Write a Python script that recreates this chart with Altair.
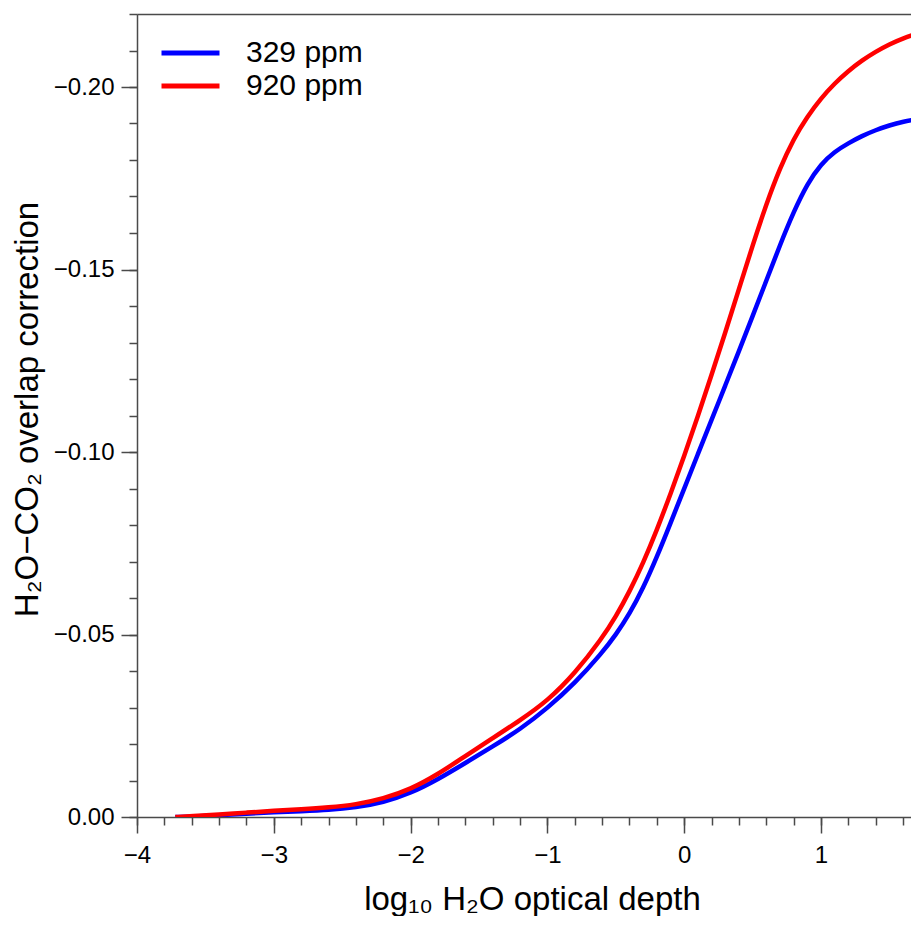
import altair as alt
import pandas as pd

# log10 H2O optical depth
x_vals = [-3.72, -3.6, -3.4, -3.2, -3.0, -2.8, -2.6, -2.4, -2.2, -2.0, -1.8, -1.6, -1.4,
          -1.2, -1.0, -0.8, -0.6, -0.5, -0.4, -0.3, -0.2, -0.1, 0.0, 0.1, 0.2, 0.3, 0.4,
          0.5, 0.6, 0.7, 0.8, 0.9, 1.0, 1.1, 1.2, 1.3, 1.4, 1.5, 1.6, 1.72]
# 329 ppm
blue_vals = [0.0, -0.0001, -0.0005, -0.0009, -0.0013, -0.0016, -0.0019, -0.0026, -0.0040,
             -0.0065, -0.0103, -0.0148, -0.0193, -0.0240, -0.0298, -0.0366, -0.0450,
             -0.0499, -0.0556, -0.0627, -0.0712, -0.0805, -0.0900, -0.0994, -0.1088,
             -0.1182, -0.1276, -0.1372, -0.1469, -0.1567, -0.1658, -0.1735, -0.1789,
             -0.1823, -0.1846, -0.1866, -0.1882, -0.1895, -0.1905, -0.1913]
# 920 ppm
red_vals = [0.0, -0.0002, -0.0007, -0.0012, -0.0017, -0.0021, -0.0026, -0.0034, -0.0050,
            -0.0076, -0.0117, -0.0167, -0.0216, -0.0265, -0.0318, -0.0393, -0.0490,
            -0.0549, -0.0617, -0.0696, -0.0786, -0.0885, -0.0989, -0.1098, -0.1211,
            -0.1327, -0.1446, -0.1566, -0.1679, -0.1778, -0.1858, -0.1919, -0.1969,
            -0.2010, -0.2044, -0.2073, -0.2097, -0.2117, -0.2134, -0.2148]

series_names = ["329 ppm", "920 ppm"]
series_colors = ["#0000FF", "#FF0000"]

x_major = [-4, -3, -2, -1, 0, 1]
x_minor = [-4.0, -3.8, -3.6, -3.4, -3.2, -3.0, -2.8, -2.6, -2.4, -2.2, -2.0, -1.8, -1.6,
           -1.4, -1.2, -1.0, -0.8, -0.6, -0.4, -0.2, 0.0, 0.2, 0.4, 0.6, 0.8, 1.0, 1.2,
           1.4, 1.6]
y_major = [-0.20, -0.15, -0.10, -0.05, 0.0]
y_minor = [-0.22, -0.21, -0.20, -0.19, -0.18, -0.17, -0.16, -0.15, -0.14, -0.13, -0.12,
           -0.11, -0.10, -0.09, -0.08, -0.07, -0.06, -0.05, -0.04, -0.03, -0.02, -0.01, 0.0]

rows = []
for name, vals in zip(series_names, [blue_vals, red_vals]):
    for xv, yv in zip(x_vals, vals):
        rows.append({"x": xv, "y": yv, "series": name})
df = pd.DataFrame(rows)

AX = "#4a4a4a"
xscale = alt.Scale(domain=[-4, 1.658], nice=False, zero=False)
yscale = alt.Scale(domain=[-0.22, 0.0], nice=False, zero=False, reverse=True)

base = alt.Chart(df)

lines = base.mark_line(strokeWidth=4.5, interpolate="basis", clip=True).encode(
    x=alt.X("x:Q", scale=xscale, axis=alt.Axis(
        values=x_major, format="d", tickSize=16, tickWidth=1.5, tickColor=AX,
        domainColor=AX, domainWidth=1.5, grid=False, labelFontSize=24,
        labelPadding=10, labelColor="black", labelFlush=False,
        title="log₁₀ H₂O optical depth", titleFontSize=33, titleFontWeight="normal",
        titleColor="black", titleBaseline="alphabetic", titleY=92, titleX=395,
        titleAlign="center", orient="bottom")),
    y=alt.Y("y:Q", scale=yscale, axis=alt.Axis(
        values=y_major, format=".2f", tickSize=16, tickWidth=1.5, tickColor=AX,
        domainColor=AX, domainWidth=1.5, grid=False, labelFontSize=24,
        labelPadding=7, labelColor="black",
        title="H₂O−CO₂ overlap correction", titleFontSize=33, titleFontWeight="normal",
        titleColor="black", titleBaseline="alphabetic", titleAngle=270,
        titleX=-100, titleY=395, titleAlign="center", orient="left")),
    color=alt.Color("series:N", scale=alt.Scale(domain=series_names, range=series_colors),
                    legend=alt.Legend(orient="none", legendX=22, legendY=24, title=None,
                                      symbolType="stroke", symbolSize=3364,
                                      symbolStrokeWidth=5, labelFontSize=30,
                                      labelOffset=24, clipHeight=30, rowPadding=3,
                                      padding=0, labelColor="black")),
)

minor = base.mark_line(opacity=0).encode(
    x=alt.X("x:Q", scale=xscale, axis=alt.Axis(
        values=x_minor, tickSize=8, tickWidth=1.5, tickColor=AX, labels=False,
        domain=False, grid=False, title=None, orient="bottom")),
    y=alt.Y("y:Q", scale=yscale, axis=alt.Axis(
        values=y_minor, tickSize=8, tickWidth=1.5, tickColor=AX, labels=False,
        domain=False, grid=False, title=None, orient="left")),
    detail="series:N",
)

top = base.mark_line(opacity=0).encode(
    x=alt.X("x:Q", scale=xscale, axis=alt.Axis(
        ticks=False, labels=False, domain=True, domainColor=AX, domainWidth=1.5,
        grid=False, title=None, orient="top")),
    y=alt.Y("y:Q", scale=yscale, axis=None),
    detail="series:N",
)

chart = alt.layer(lines, minor, top).resolve_axis(
    x="independent", y="independent"
).properties(
    width=774, height=803,
    autosize=alt.AutoSizeParams(type="none"),
    padding={"left": 129, "top": 6, "right": 0, "bottom": 99},
).configure_view(stroke=None).configure(font="Liberation Sans")

chart.save("out.html", embed_options={"renderer": "svg", "actions": False})
